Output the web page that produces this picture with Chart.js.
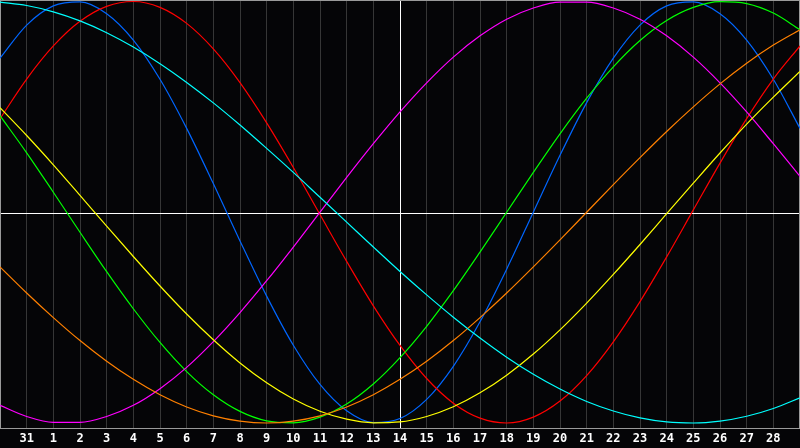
<!DOCTYPE html>
<html>
<head>
<meta charset="utf-8">
<script src="https://cdn.jsdelivr.net/npm/chart.js@4.4.0/dist/chart.umd.min.js"></script>
<style>
  html, body { margin: 0; padding: 0; background: #050507; }
  #wrap { width: 800px; height: 448px; }
  canvas { display: block; }
</style>
</head>
<body>
<div id="wrap"><canvas id="c" width="800" height="448"></canvas></div>
<script>
// Day labels (first/last grid positions are unlabeled)
const dayLabels = ['', '31', '1', '2', '3', '4', '5', '6', '7', '8', '9', '10', '11', '12', '13', '14',
  '15', '16', '17', '18', '19', '20', '21', '22', '23', '24', '25', '26', '27', '28', ''];
const todayIndex = 15;

// Series values (percent, -100..100), one per day
const physical = [73.1, 88.8, 97.9, 99.8, 94.2, 81.7, 63.1, 39.8, 13.6, -13.6, -39.8, -63.1, -81.7, -94.2, -99.8, -97.9,
  -88.8, -73.1, -52.0, -27.0, 0, 27.0, 52.0, 73.1, 88.8, 97.9, 99.8, 94.2, 81.7, 63.1, 39.8];
const emotional = [44.4, 63.2, 78.9, 90.6, 97.7, 100.0, 97.2, 89.6, 77.5, 61.5, 42.4, 21.2, -1.1, -23.3, -44.4, -63.2,
  -78.9, -90.6, -97.7, -100.0, -97.2, -89.6, -77.5, -61.5, -42.4, -21.2, 1.1, 23.3, 44.4, 63.2, 78.9];
const intellectual = [45.8, 28.2, 9.5, -9.5, -28.2, -45.8, -61.8, -75.6, -86.6, -94.5, -99.0, -99.9, -97.2, -91.0, -81.5, -69.0,
  -54.1, -37.2, -18.9, 0, 18.9, 37.2, 54.1, 69.0, 81.5, 91.0, 97.2, 99.9, 99.0, 94.5, 86.6];
const intuitive = [-91.6, -96.9, -99.7, -99.7, -96.9, -91.6, -83.7, -73.6, -61.4, -47.6, -32.5, -16.5, 0, 16.5, 32.5, 47.6,
  61.4, 73.6, 83.7, 91.6, 96.9, 99.7, 99.7, 96.9, 91.6, 83.7, 73.6, 61.4, 47.6, 32.5, 17.0];
const aesthetic = [49.6, 36.4, 22.5, 8.0, -6.6, -21.0, -35.0, -48.3, -60.5, -71.5, -80.9, -88.6, -94.4, -98.2, -99.9, -99.5,
  -96.9, -92.3, -85.7, -77.3, -67.3, -55.8, -43.1, -29.5, -15.3, -0.7, 13.8, 28.1, 41.8, 54.6, 66.8];
const awareness = [-25.9, -38.3, -50.0, -60.9, -70.7, -79.3, -86.6, -92.4, -96.6, -99.1, -100, -99.1, -96.6, -92.4, -86.6, -79.3,
  -70.7, -60.9, -50.0, -38.3, -25.9, -13.1, 0, 13.1, 25.9, 38.3, 50.0, 60.9, 70.7, 79.3, 86.6];
const spiritual = [99.7, 98.1, 95.1, 90.8, 85.2, 78.4, 70.5, 61.6, 51.9, 41.4, 30.3, 18.9, 7.1, -4.7, -16.5, -28.1,
  -39.2, -49.8, -59.7, -68.8, -76.9, -83.9, -89.8, -94.3, -97.6, -99.5, -100.0, -99.1, -96.8, -93.1, -88.1];

const seriesList = [
  { label: 'Spiritual', data: spiritual, color: '#00ffff' },
  { label: 'Awareness', data: awareness, color: '#ff8000' },
  { label: 'Aesthetic', data: aesthetic, color: '#ffff00' },
  { label: 'Intuitive', data: intuitive, color: '#ff00ff' },
  { label: 'Intellectual', data: intellectual, color: '#00ff00' },
  { label: 'Emotional', data: emotional, color: '#ff0000' },
  { label: 'Physical', data: physical, color: '#0066ff' }
];

const framePlugin = {
  id: 'frame',
  beforeDatasetsDraw(chart) {
    const a = chart.chartArea;
    const ctx = chart.ctx;
    ctx.save();
    ctx.strokeStyle = '#9a9a9a';
    ctx.lineWidth = 1;
    const l = Math.round(a.left) + 0.5;
    const t = Math.round(a.top) + 0.5;
    const r = Math.round(a.right) - 0.5;
    const b = Math.round(a.bottom) - 0.5;
    ctx.strokeRect(l, t, r - l, b - t);
    ctx.restore();
  }
};

new Chart(document.getElementById('c'), {
  type: 'line',
  data: {
    labels: dayLabels,
    datasets: seriesList.map(s => ({
      label: s.label,
      data: s.data,
      borderColor: s.color,
      backgroundColor: s.color,
      borderWidth: 1.2,
      pointRadius: 0,
      cubicInterpolationMode: 'monotone',
      fill: false
    }))
  },
  options: {
    responsive: false,
    animation: false,
    devicePixelRatio: 1,
    layout: { padding: { left: 0, right: 0, top: 0, bottom: 1.6 } },
    plugins: { legend: { display: false }, tooltip: { enabled: false } },
    scales: {
      x: {
        type: 'category',
        offset: false,
        border: { display: false },
        grid: {
          drawTicks: true,
          tickLength: 3,
          tickColor: 'rgba(0,0,0,0)',
          color: (ctx) => ctx.index === todayIndex ? '#ffffff' : '#363636',
          lineWidth: 1
        },
        ticks: {
          autoSkip: false,
          maxRotation: 0,
          padding: 0,
          color: '#ffffff',
          font: { family: 'DejaVu Sans Mono', size: 12, weight: 'bold' }
        }
      },
      y: {
        min: -102.85,
        max: 100.7,
        border: { display: false },
        afterBuildTicks: (scale) => { scale.ticks = [{ value: -0.83 }]; },
        grid: { drawTicks: false, color: '#ffffff', lineWidth: 1 },
        ticks: { display: false }
      }
    }
  },
  plugins: [framePlugin]
});
</script>
</body>
</html>
